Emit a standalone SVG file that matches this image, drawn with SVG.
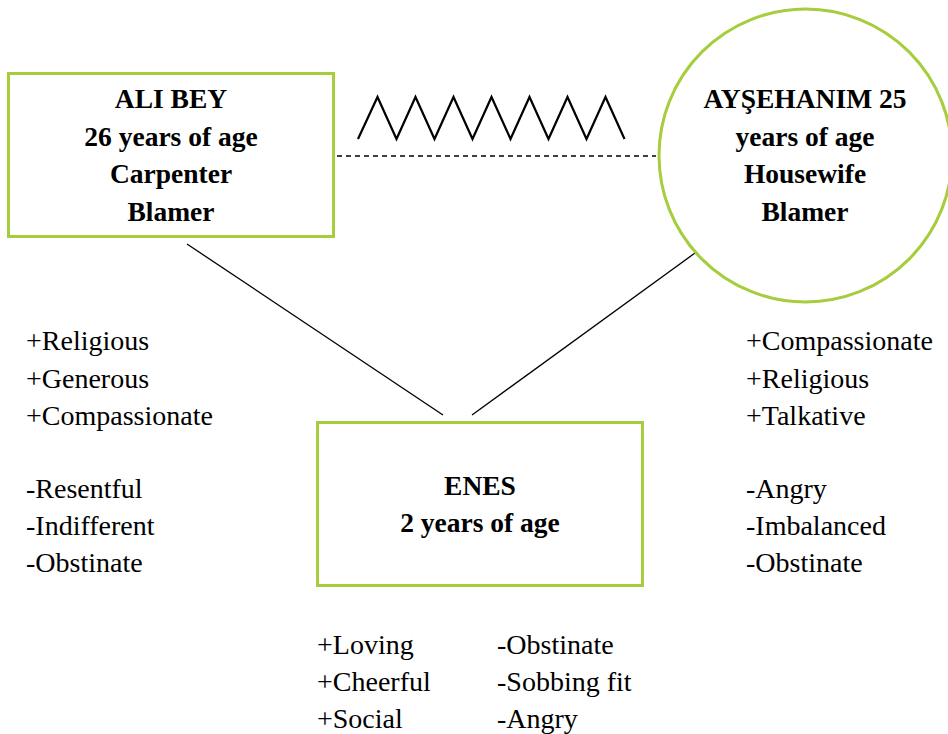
<svg xmlns="http://www.w3.org/2000/svg" width="948" height="734" viewBox="0 0 948 734">
<defs>
<style>
.node{fill:#fff;stroke:#a5cd3d;stroke-width:3}
.ln{stroke:#000;stroke-width:1.3;fill:none}
text{font-family:'Liberation Serif','Times New Roman',serif;fill:#000}
.b{font-weight:700;font-size:27.5px;text-anchor:middle}
.t{font-size:28px}
</style>
</defs>
<rect width="948" height="734" fill="#fff"/>
<g id="connectors">
<line class="ln" x1="187" y1="244" x2="443" y2="415"/>
<line class="ln" x1="472" y1="415" x2="695" y2="253"/>
<line class="ln" x1="337" y1="156" x2="656" y2="156" stroke-dasharray="5,4"/>
<polyline fill="none" stroke="#000" stroke-width="2.2" points="358,139 377.5,97 396.5,139 415.5,97 434.5,139 453.5,97 472.5,139 491.5,97 510.5,139 529.5,97 548.5,139 567.5,97 586.5,139 605.5,97 624.5,139"/>
</g>
<g id="ali">
<rect class="node" x="8.5" y="73.5" width="325" height="163"/>
<text class="b" x="171" y="108">ALI BEY</text>
<text class="b" x="171" y="146">26 years of age</text>
<text class="b" x="171" y="183">Carpenter</text>
<text class="b" x="171" y="221">Blamer</text>
</g>
<g id="aysehanim">
<circle class="node" cx="805.5" cy="155.5" r="146.5"/>
<text class="b" x="805" y="108">AYŞEHANIM 25</text>
<text class="b" x="805" y="146">years of age</text>
<text class="b" x="805" y="183">Housewife</text>
<text class="b" x="805" y="221">Blamer</text>
</g>
<g id="enes">
<rect class="node" x="317.5" y="422.5" width="325" height="163"/>
<text class="b" x="480" y="495">ENES</text>
<text class="b" x="480" y="532">2 years of age</text>
</g>
<g id="ali-traits">
<text class="t" x="26" y="350">+Religious</text>
<text class="t" x="26" y="388">+Generous</text>
<text class="t" x="26" y="425">+Compassionate</text>
<text class="t" x="26" y="498">-Resentful</text>
<text class="t" x="26" y="535">-Indifferent</text>
<text class="t" x="26" y="572">-Obstinate</text>
</g>
<g id="aysehanim-traits">
<text class="t" x="746" y="350">+Compassionate</text>
<text class="t" x="746" y="388">+Religious</text>
<text class="t" x="746" y="425">+Talkative</text>
<text class="t" x="746" y="498">-Angry</text>
<text class="t" x="746" y="535">-Imbalanced</text>
<text class="t" x="746" y="572">-Obstinate</text>
</g>
<g id="enes-traits">
<text class="t" x="317" y="654">+Loving</text>
<text class="t" x="317" y="691">+Cheerful</text>
<text class="t" x="317" y="728">+Social</text>
<text class="t" x="497" y="654">-Obstinate</text>
<text class="t" x="497" y="691">-Sobbing fit</text>
<text class="t" x="497" y="728">-Angry</text>
</g>
</svg>
